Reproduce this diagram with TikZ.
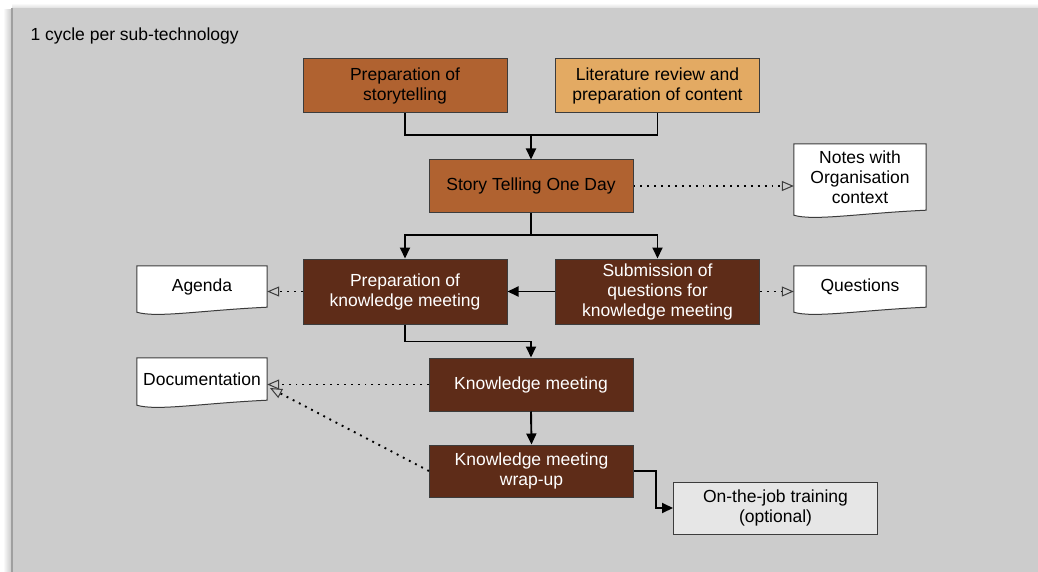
\documentclass[tikz,border=0pt]{standalone}
\usepackage{fontspec}
\setmainfont{Liberation Sans}
\usetikzlibrary{arrows.meta,calc}
\definecolor{panel}{RGB}{204,204,204}
\definecolor{rust}{RGB}{176,98,48}
\definecolor{sand}{RGB}{227,170,99}
\definecolor{umber}{RGB}{94,44,24}
\definecolor{pale}{RGB}{230,230,230}
\definecolor{edge}{RGB}{60,60,60}
\pgfdeclarelayer{back}
\pgfdeclarelayer{mid}
\pgfsetlayers{back,mid,main}
% paper outline of a document symbol around a named node
\newcommand\docoutline[1]{%
  \filldraw[fill=white,draw=edge,line width=1pt]
    (#1.south east) -- (#1.north east) -- (#1.north west)
    -- ($(#1.south west)+(0,5)$)
    .. controls ($(#1.south west)+(20,11)$) and ($(#1.south west)!0.5!(#1.south east)+(0,3)$)
    .. (#1.south east) -- cycle;}
\begin{document}
\begin{tikzpicture}[x=1pt,y=-1pt,
  font=\fontsize{17.5}{20}\selectfont,
  box/.style={draw=edge,line width=1pt,minimum width=204pt,align=center,inner sep=2pt},
  orangebox/.style={box,fill=rust,text=black},
  sandbox/.style={box,fill=sand,text=black},
  darkbox/.style={box,fill=umber,text=white},
  palebox/.style={box,fill=pale,text=black},
  docarea/.style={minimum width=130pt,align=center,inner sep=1pt},
  flow/.style={line width=1.9pt,-{Triangle[length=11pt,width=10pt]}},
  link/.style={line width=1.9pt},
  note/.style={line width=1.9pt,dash pattern=on 1.9pt off 5pt,
    -{Triangle[open,length=12pt,width=10pt,line width=1pt,color=edge]}}]
\useasboundingbox (0,0) rectangle (1038,572);

% panel with soft left/top shadow
\begin{pgfonlayer}{back}
  \shade[left color=white,right color=gray!45] (3,10) rectangle (12,572);
  \shade[top color=white,bottom color=gray!25] (12,3) rectangle (1038,8);
  \fill[panel] (12,8) rectangle (1038,572);
  \draw[gray!75,line width=1.2pt] (12,8) -- (12,572);
\end{pgfonlayer}

\node[anchor=west] (title) at (27,36) {1 cycle per sub-technology};

% process steps
\node[orangebox,minimum height=54pt] (ps) at (405,86) {Preparation of\\storytelling};
\node[sandbox,minimum height=54pt] (lit) at (657.5,86) {Literature review and\\preparation of content};
\node[orangebox,minimum height=52pt] (story) at (531,186) {Story Telling One Day};
\node[darkbox,minimum height=65pt] (pkm) at (405,291.5) {Preparation of\\knowledge meeting};
\node[darkbox,minimum height=65pt] (sub) at (657.5,291.5) {Submission of\\questions for\\knowledge meeting};
\node[darkbox,minimum height=53pt] (km) at (531,384.5) {Knowledge meeting};
\node[darkbox,minimum height=52pt] (wrap) at (531.5,471) {Knowledge meeting\\wrap-up};
\node[palebox,minimum height=52pt] (job) at (775.5,508) {On-the-job training\\(optional)};

% documents
\node[docarea,minimum width=132pt,minimum height=66pt] (notes) at (860,177) {Notes with\\Organisation\\context};
\node[docarea,minimum height=41pt] (agenda) at (202,286.5) {Agenda};
\node[docarea,minimum width=132pt,minimum height=41pt] (quest) at (860,286.5) {Questions};
\node[docarea,minimum height=42pt] (docu) at (202,379) {Documentation};
\begin{pgfonlayer}{mid}
  \docoutline{notes}
  \docoutline{agenda}
  \docoutline{quest}
  \docoutline{docu}
\end{pgfonlayer}

% control flow
\coordinate (j1) at (531,135);
\coordinate (j2) at (531,235);
\draw[link] (ps.south) |- (j1) -| (lit.south);
\draw[flow] (j1) -- (story.north);
\draw[link] (story.south) -- (j2);
\draw[flow] (j2) -| (pkm.north);
\draw[flow] (j2) -| (sub.north);
\draw[flow] (sub.west) -- (pkm.east);
\draw[flow] (pkm.south) -- ++(0,17) -| (km.north);
\draw[flow] (km.south) -- (wrap.north);
\draw[flow] (wrap.east) -- ++(22,0) |- (job.west);

% document outputs
\coordinate (docin) at (270,388);
\draw[note] (story.east) -- (story.east -| notes.west);
\draw[note] (pkm.west) -- (pkm.west -| agenda.east);
\draw[note] (sub.east) -- (sub.east -| quest.west);
\draw[note] (km.west) -- (km.west -| docu.east);
\draw[note] (wrap.west) -- (docin);
\end{tikzpicture}
\end{document}
